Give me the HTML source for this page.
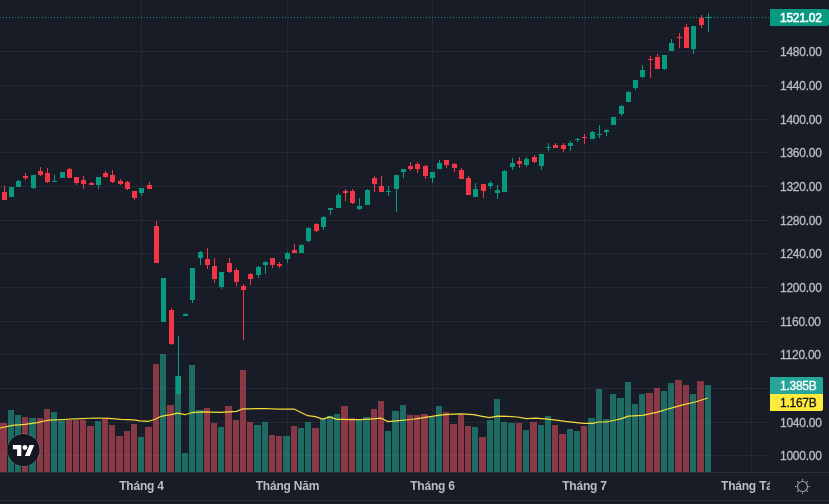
<!DOCTYPE html><html><head><meta charset="utf-8"><title>Chart</title><style>html,body{margin:0;padding:0;background:#181c27;overflow:hidden}svg{display:block}</style></head><body><svg width="829" height="504" viewBox="0 0 829 504">
<defs><filter id="idf" x="-5%" y="-50%" width="110%" height="200%"><feOffset dx="0" dy="0"/></filter></defs>
<rect width="829" height="504" fill="#181c27"/>
<g shape-rendering="crispEdges">
<rect x="0" y="51" width="770" height="1" fill="#242834"/>
<rect x="0" y="85" width="770" height="1" fill="#242834"/>
<rect x="0" y="119" width="770" height="1" fill="#242834"/>
<rect x="0" y="152" width="770" height="1" fill="#242834"/>
<rect x="0" y="186" width="770" height="1" fill="#242834"/>
<rect x="0" y="220" width="770" height="1" fill="#242834"/>
<rect x="0" y="253" width="770" height="1" fill="#242834"/>
<rect x="0" y="287" width="770" height="1" fill="#242834"/>
<rect x="0" y="321" width="770" height="1" fill="#242834"/>
<rect x="0" y="354" width="770" height="1" fill="#242834"/>
<rect x="0" y="388" width="770" height="1" fill="#242834"/>
<rect x="0" y="422" width="770" height="1" fill="#242834"/>
<rect x="0" y="455" width="770" height="1" fill="#242834"/>
<rect x="141" y="0" width="1" height="472" fill="#242834"/>
<rect x="287" y="0" width="1" height="472" fill="#242834"/>
<rect x="432" y="0" width="1" height="472" fill="#242834"/>
<rect x="584" y="0" width="1" height="472" fill="#242834"/>
<rect x="751" y="0" width="1" height="472" fill="#242834"/>
<rect x="0" y="423" width="7" height="49" fill="rgba(250,84,101,0.5)"/>
<rect x="8" y="410" width="6" height="62" fill="rgba(34,186,157,0.5)"/>
<rect x="15" y="415" width="6" height="57" fill="rgba(34,186,157,0.5)"/>
<rect x="22" y="417" width="6" height="55" fill="rgba(250,84,101,0.5)"/>
<rect x="29" y="418" width="7" height="54" fill="rgba(34,186,157,0.5)"/>
<rect x="37" y="418" width="6" height="54" fill="rgba(250,84,101,0.5)"/>
<rect x="44" y="409" width="6" height="63" fill="rgba(250,84,101,0.5)"/>
<rect x="51" y="412" width="6" height="60" fill="rgba(34,186,157,0.5)"/>
<rect x="58" y="420" width="7" height="52" fill="rgba(34,186,157,0.5)"/>
<rect x="66" y="420" width="6" height="52" fill="rgba(250,84,101,0.5)"/>
<rect x="73" y="420" width="6" height="52" fill="rgba(250,84,101,0.5)"/>
<rect x="80" y="420" width="6" height="52" fill="rgba(250,84,101,0.5)"/>
<rect x="87" y="426" width="7" height="46" fill="rgba(250,84,101,0.5)"/>
<rect x="95" y="421" width="6" height="51" fill="rgba(34,186,157,0.5)"/>
<rect x="102" y="419" width="6" height="53" fill="rgba(250,84,101,0.5)"/>
<rect x="109" y="425" width="6" height="47" fill="rgba(250,84,101,0.5)"/>
<rect x="116" y="436" width="7" height="36" fill="rgba(250,84,101,0.5)"/>
<rect x="124" y="431" width="6" height="41" fill="rgba(250,84,101,0.5)"/>
<rect x="131" y="424" width="6" height="48" fill="rgba(250,84,101,0.5)"/>
<rect x="138" y="437" width="6" height="35" fill="rgba(34,186,157,0.5)"/>
<rect x="145" y="427" width="7" height="45" fill="rgba(250,84,101,0.5)"/>
<rect x="153" y="364" width="6" height="108" fill="rgba(250,84,101,0.5)"/>
<rect x="160" y="354" width="6" height="118" fill="rgba(34,186,157,0.5)"/>
<rect x="167" y="405" width="7" height="67" fill="rgba(250,84,101,0.5)"/>
<rect x="175" y="376" width="6" height="96" fill="rgba(34,186,157,0.5)"/>
<rect x="182" y="453" width="6" height="19" fill="rgba(34,186,157,0.5)"/>
<rect x="189" y="365" width="6" height="107" fill="rgba(34,186,157,0.5)"/>
<rect x="196" y="410" width="7" height="62" fill="rgba(34,186,157,0.5)"/>
<rect x="204" y="408" width="6" height="64" fill="rgba(250,84,101,0.5)"/>
<rect x="211" y="423" width="6" height="49" fill="rgba(250,84,101,0.5)"/>
<rect x="218" y="427" width="6" height="45" fill="rgba(34,186,157,0.5)"/>
<rect x="225" y="406" width="7" height="66" fill="rgba(250,84,101,0.5)"/>
<rect x="233" y="420" width="6" height="52" fill="rgba(250,84,101,0.5)"/>
<rect x="240" y="370" width="6" height="102" fill="rgba(250,84,101,0.5)"/>
<rect x="247" y="422" width="6" height="50" fill="rgba(250,84,101,0.5)"/>
<rect x="254" y="425" width="7" height="47" fill="rgba(34,186,157,0.5)"/>
<rect x="262" y="422" width="6" height="50" fill="rgba(34,186,157,0.5)"/>
<rect x="269" y="435" width="6" height="37" fill="rgba(250,84,101,0.5)"/>
<rect x="276" y="436" width="6" height="36" fill="rgba(250,84,101,0.5)"/>
<rect x="283" y="436" width="7" height="36" fill="rgba(34,186,157,0.5)"/>
<rect x="291" y="426" width="6" height="46" fill="rgba(250,84,101,0.5)"/>
<rect x="298" y="428" width="6" height="44" fill="rgba(34,186,157,0.5)"/>
<rect x="305" y="422" width="6" height="50" fill="rgba(34,186,157,0.5)"/>
<rect x="312" y="428" width="7" height="44" fill="rgba(250,84,101,0.5)"/>
<rect x="320" y="419" width="6" height="53" fill="rgba(34,186,157,0.5)"/>
<rect x="327" y="416" width="6" height="56" fill="rgba(34,186,157,0.5)"/>
<rect x="334" y="414" width="6" height="58" fill="rgba(34,186,157,0.5)"/>
<rect x="341" y="406" width="7" height="66" fill="rgba(250,84,101,0.5)"/>
<rect x="349" y="418" width="6" height="54" fill="rgba(250,84,101,0.5)"/>
<rect x="356" y="419" width="6" height="53" fill="rgba(34,186,157,0.5)"/>
<rect x="363" y="417" width="7" height="55" fill="rgba(34,186,157,0.5)"/>
<rect x="371" y="409" width="6" height="63" fill="rgba(250,84,101,0.5)"/>
<rect x="378" y="401" width="6" height="71" fill="rgba(250,84,101,0.5)"/>
<rect x="385" y="431" width="6" height="41" fill="rgba(34,186,157,0.5)"/>
<rect x="392" y="411" width="7" height="61" fill="rgba(34,186,157,0.5)"/>
<rect x="400" y="405" width="6" height="67" fill="rgba(34,186,157,0.5)"/>
<rect x="407" y="415" width="6" height="57" fill="rgba(250,84,101,0.5)"/>
<rect x="414" y="415" width="6" height="57" fill="rgba(250,84,101,0.5)"/>
<rect x="421" y="414" width="7" height="58" fill="rgba(250,84,101,0.5)"/>
<rect x="429" y="417" width="6" height="55" fill="rgba(34,186,157,0.5)"/>
<rect x="436" y="406" width="6" height="66" fill="rgba(34,186,157,0.5)"/>
<rect x="443" y="412" width="6" height="60" fill="rgba(250,84,101,0.5)"/>
<rect x="450" y="424" width="7" height="48" fill="rgba(250,84,101,0.5)"/>
<rect x="458" y="415" width="6" height="57" fill="rgba(250,84,101,0.5)"/>
<rect x="465" y="426" width="6" height="46" fill="rgba(250,84,101,0.5)"/>
<rect x="472" y="427" width="6" height="45" fill="rgba(34,186,157,0.5)"/>
<rect x="479" y="437" width="7" height="35" fill="rgba(250,84,101,0.5)"/>
<rect x="487" y="420" width="6" height="52" fill="rgba(34,186,157,0.5)"/>
<rect x="494" y="399" width="6" height="73" fill="rgba(34,186,157,0.5)"/>
<rect x="501" y="422" width="6" height="50" fill="rgba(34,186,157,0.5)"/>
<rect x="508" y="423" width="7" height="49" fill="rgba(34,186,157,0.5)"/>
<rect x="516" y="423" width="6" height="49" fill="rgba(250,84,101,0.5)"/>
<rect x="523" y="430" width="6" height="42" fill="rgba(34,186,157,0.5)"/>
<rect x="530" y="422" width="7" height="50" fill="rgba(250,84,101,0.5)"/>
<rect x="538" y="425" width="6" height="47" fill="rgba(34,186,157,0.5)"/>
<rect x="545" y="416" width="6" height="56" fill="rgba(34,186,157,0.5)"/>
<rect x="552" y="425" width="6" height="47" fill="rgba(250,84,101,0.5)"/>
<rect x="559" y="434" width="7" height="38" fill="rgba(250,84,101,0.5)"/>
<rect x="567" y="429" width="6" height="43" fill="rgba(34,186,157,0.5)"/>
<rect x="574" y="431" width="6" height="41" fill="rgba(34,186,157,0.5)"/>
<rect x="581" y="426" width="6" height="46" fill="rgba(250,84,101,0.5)"/>
<rect x="588" y="418" width="7" height="54" fill="rgba(34,186,157,0.5)"/>
<rect x="596" y="389" width="6" height="83" fill="rgba(34,186,157,0.5)"/>
<rect x="603" y="419" width="6" height="53" fill="rgba(34,186,157,0.5)"/>
<rect x="610" y="394" width="6" height="78" fill="rgba(34,186,157,0.5)"/>
<rect x="617" y="398" width="7" height="74" fill="rgba(34,186,157,0.5)"/>
<rect x="625" y="382" width="6" height="90" fill="rgba(34,186,157,0.5)"/>
<rect x="632" y="404" width="6" height="68" fill="rgba(34,186,157,0.5)"/>
<rect x="639" y="394" width="6" height="78" fill="rgba(34,186,157,0.5)"/>
<rect x="646" y="393" width="7" height="79" fill="rgba(250,84,101,0.5)"/>
<rect x="654" y="388" width="6" height="84" fill="rgba(250,84,101,0.5)"/>
<rect x="661" y="391" width="6" height="81" fill="rgba(34,186,157,0.5)"/>
<rect x="668" y="383" width="6" height="89" fill="rgba(34,186,157,0.5)"/>
<rect x="675" y="380" width="7" height="92" fill="rgba(250,84,101,0.5)"/>
<rect x="683" y="385" width="6" height="87" fill="rgba(250,84,101,0.5)"/>
<rect x="690" y="394" width="6" height="78" fill="rgba(34,186,157,0.5)"/>
<rect x="697" y="381" width="7" height="91" fill="rgba(250,84,101,0.5)"/>
<rect x="705" y="385" width="6" height="87" fill="rgba(34,186,157,0.5)"/>
</g>
<path d="M0,428 L12.5,425.4 L25,424.3 L37.6,422.7 L44,421 L50,420.2 L62.7,419.5 L75,418.9 L96,418 L108.5,418.3 L121,419.3 L133.6,419.9 L140,420.9 L148.7,421.3 L155,419.3 L161.2,416.3 L167.5,415.1 L170,414.9 L177.6,413.2 L185,414.7 L191.4,412.7 L202.7,411.9 L220.3,412.4 L236.6,411.4 L242.9,408.8 L249,408.8 L265,408.5 L277.6,409.2 L294,409 L307.8,415.7 L315.3,416.6 L322.8,419.1 L329.7,416.9 L336.6,419.4 L344,419.4 L348.5,419.6 L361,419.6 L373.6,418.8 L381.2,418.2 L388,421.6 L398.7,420.7 L411.3,419.5 L423.8,417.6 L432,416.3 L439.5,415.1 L448.3,414.4 L460.9,413.8 L473.4,414.7 L482.2,416.3 L489.7,417.6 L497.2,416.1 L507.3,416.3 L517.3,417 L526.1,418.6 L536,418.2 L548,419.1 L565.6,421.4 L583.2,423.3 L593.2,423.3 L598.3,422 L605.8,422 L613.3,420.5 L620.8,418.9 L628.4,416.1 L642.6,415.4 L657.6,412.1 L670.2,408.3 L682.7,404.9 L695.3,402 L707.8,398" fill="none" stroke="#f5dc38" stroke-width="1.2" stroke-linejoin="round"/>
<g shape-rendering="crispEdges">
<rect x="4" y="186" width="1" height="14" fill="#f23645"/>
<rect x="2" y="192" width="5" height="8" fill="#f23645"/>
<rect x="11" y="187" width="1" height="10" fill="#089981"/>
<rect x="9" y="187" width="5" height="10" fill="#089981"/>
<rect x="18" y="180" width="1" height="7" fill="#089981"/>
<rect x="16" y="181" width="5" height="6" fill="#089981"/>
<rect x="25" y="173" width="1" height="7" fill="#f23645"/>
<rect x="23" y="176" width="5" height="2" fill="#f23645"/>
<rect x="33" y="175" width="1" height="14" fill="#089981"/>
<rect x="31" y="175" width="5" height="13" fill="#089981"/>
<rect x="40" y="167" width="1" height="9" fill="#f23645"/>
<rect x="38" y="171" width="5" height="4" fill="#f23645"/>
<rect x="47" y="168" width="1" height="15" fill="#f23645"/>
<rect x="45" y="173" width="5" height="9" fill="#f23645"/>
<rect x="54" y="175" width="1" height="7" fill="#089981"/>
<rect x="52" y="181" width="5" height="1" fill="#089981"/>
<rect x="62" y="172" width="1" height="6" fill="#089981"/>
<rect x="60" y="172" width="5" height="6" fill="#089981"/>
<rect x="69" y="168" width="1" height="10" fill="#f23645"/>
<rect x="67" y="169" width="5" height="9" fill="#f23645"/>
<rect x="76" y="177" width="1" height="8" fill="#f23645"/>
<rect x="74" y="177" width="5" height="6" fill="#f23645"/>
<rect x="83" y="176" width="1" height="13" fill="#f23645"/>
<rect x="81" y="180" width="5" height="4" fill="#f23645"/>
<rect x="91" y="182" width="1" height="3" fill="#f23645"/>
<rect x="89" y="183" width="5" height="2" fill="#f23645"/>
<rect x="98" y="177" width="1" height="12" fill="#089981"/>
<rect x="96" y="177" width="5" height="8" fill="#089981"/>
<rect x="105" y="171" width="1" height="7" fill="#f23645"/>
<rect x="103" y="173" width="5" height="4" fill="#f23645"/>
<rect x="112" y="170" width="1" height="13" fill="#f23645"/>
<rect x="110" y="175" width="5" height="7" fill="#f23645"/>
<rect x="120" y="179" width="1" height="6" fill="#f23645"/>
<rect x="118" y="181" width="5" height="3" fill="#f23645"/>
<rect x="127" y="181" width="1" height="9" fill="#f23645"/>
<rect x="125" y="182" width="5" height="7" fill="#f23645"/>
<rect x="134" y="191" width="1" height="9" fill="#f23645"/>
<rect x="132" y="191" width="5" height="7" fill="#f23645"/>
<rect x="141" y="188" width="1" height="8" fill="#089981"/>
<rect x="139" y="188" width="5" height="5" fill="#089981"/>
<rect x="149" y="182" width="1" height="7" fill="#f23645"/>
<rect x="147" y="185" width="5" height="4" fill="#f23645"/>
<rect x="156" y="221" width="1" height="42" fill="#f23645"/>
<rect x="154" y="226" width="5" height="37" fill="#f23645"/>
<rect x="163" y="278" width="1" height="44" fill="#089981"/>
<rect x="161" y="278" width="5" height="44" fill="#089981"/>
<rect x="171" y="308" width="1" height="37" fill="#f23645"/>
<rect x="169" y="310" width="5" height="34" fill="#f23645"/>
<rect x="178" y="336" width="1" height="58" fill="#089981"/>
<rect x="176" y="376" width="5" height="18" fill="#089981"/>
<rect x="185" y="313" width="1" height="3" fill="#089981"/>
<rect x="183" y="314" width="5" height="2" fill="#089981"/>
<rect x="192" y="268" width="1" height="35" fill="#089981"/>
<rect x="190" y="268" width="5" height="32" fill="#089981"/>
<rect x="200" y="251" width="1" height="14" fill="#089981"/>
<rect x="198" y="252" width="5" height="6" fill="#089981"/>
<rect x="207" y="248" width="1" height="21" fill="#f23645"/>
<rect x="205" y="259" width="5" height="6" fill="#f23645"/>
<rect x="214" y="258" width="1" height="25" fill="#f23645"/>
<rect x="212" y="266" width="5" height="13" fill="#f23645"/>
<rect x="221" y="272" width="1" height="17" fill="#089981"/>
<rect x="219" y="272" width="5" height="15" fill="#089981"/>
<rect x="229" y="258" width="1" height="15" fill="#f23645"/>
<rect x="227" y="263" width="5" height="9" fill="#f23645"/>
<rect x="236" y="268" width="1" height="18" fill="#f23645"/>
<rect x="234" y="270" width="5" height="12" fill="#f23645"/>
<rect x="243" y="284" width="1" height="56" fill="#f23645"/>
<rect x="241" y="286" width="5" height="4" fill="#f23645"/>
<rect x="250" y="273" width="1" height="12" fill="#f23645"/>
<rect x="248" y="274" width="5" height="5" fill="#f23645"/>
<rect x="258" y="266" width="1" height="12" fill="#089981"/>
<rect x="256" y="267" width="5" height="8" fill="#089981"/>
<rect x="265" y="261" width="1" height="13" fill="#089981"/>
<rect x="263" y="262" width="5" height="3" fill="#089981"/>
<rect x="272" y="258" width="1" height="10" fill="#f23645"/>
<rect x="270" y="258" width="5" height="7" fill="#f23645"/>
<rect x="279" y="262" width="1" height="6" fill="#f23645"/>
<rect x="277" y="264" width="5" height="2" fill="#f23645"/>
<rect x="287" y="252" width="1" height="11" fill="#089981"/>
<rect x="285" y="253" width="5" height="6" fill="#089981"/>
<rect x="294" y="244" width="1" height="9" fill="#f23645"/>
<rect x="292" y="250" width="5" height="3" fill="#f23645"/>
<rect x="301" y="244" width="1" height="9" fill="#089981"/>
<rect x="299" y="245" width="5" height="8" fill="#089981"/>
<rect x="308" y="227" width="1" height="15" fill="#089981"/>
<rect x="306" y="228" width="5" height="13" fill="#089981"/>
<rect x="316" y="223" width="1" height="9" fill="#f23645"/>
<rect x="314" y="224" width="5" height="7" fill="#f23645"/>
<rect x="323" y="216" width="1" height="14" fill="#089981"/>
<rect x="321" y="217" width="5" height="10" fill="#089981"/>
<rect x="330" y="208" width="1" height="7" fill="#089981"/>
<rect x="328" y="208" width="5" height="2" fill="#089981"/>
<rect x="338" y="193" width="1" height="15" fill="#089981"/>
<rect x="336" y="195" width="5" height="13" fill="#089981"/>
<rect x="345" y="189" width="1" height="12" fill="#f23645"/>
<rect x="343" y="191" width="5" height="2" fill="#f23645"/>
<rect x="352" y="189" width="1" height="15" fill="#f23645"/>
<rect x="350" y="191" width="5" height="12" fill="#f23645"/>
<rect x="359" y="198" width="1" height="12" fill="#089981"/>
<rect x="357" y="206" width="5" height="3" fill="#089981"/>
<rect x="367" y="189" width="1" height="16" fill="#089981"/>
<rect x="365" y="190" width="5" height="15" fill="#089981"/>
<rect x="374" y="176" width="1" height="16" fill="#f23645"/>
<rect x="372" y="178" width="5" height="6" fill="#f23645"/>
<rect x="381" y="176" width="1" height="16" fill="#f23645"/>
<rect x="379" y="186" width="5" height="6" fill="#f23645"/>
<rect x="388" y="186" width="1" height="10" fill="#089981"/>
<rect x="386" y="191" width="5" height="1" fill="#089981"/>
<rect x="396" y="175" width="1" height="37" fill="#089981"/>
<rect x="394" y="175" width="5" height="14" fill="#089981"/>
<rect x="403" y="169" width="1" height="9" fill="#089981"/>
<rect x="401" y="169" width="5" height="3" fill="#089981"/>
<rect x="410" y="162" width="1" height="9" fill="#f23645"/>
<rect x="408" y="166" width="5" height="3" fill="#f23645"/>
<rect x="417" y="162" width="1" height="11" fill="#f23645"/>
<rect x="415" y="164" width="5" height="5" fill="#f23645"/>
<rect x="425" y="165" width="1" height="14" fill="#f23645"/>
<rect x="423" y="166" width="5" height="10" fill="#f23645"/>
<rect x="432" y="172" width="1" height="11" fill="#089981"/>
<rect x="430" y="172" width="5" height="6" fill="#089981"/>
<rect x="439" y="160" width="1" height="9" fill="#089981"/>
<rect x="437" y="163" width="5" height="6" fill="#089981"/>
<rect x="446" y="160" width="1" height="8" fill="#f23645"/>
<rect x="444" y="160" width="5" height="5" fill="#f23645"/>
<rect x="454" y="163" width="1" height="9" fill="#f23645"/>
<rect x="452" y="164" width="5" height="4" fill="#f23645"/>
<rect x="461" y="168" width="1" height="11" fill="#f23645"/>
<rect x="459" y="170" width="5" height="9" fill="#f23645"/>
<rect x="468" y="176" width="1" height="19" fill="#f23645"/>
<rect x="466" y="178" width="5" height="17" fill="#f23645"/>
<rect x="475" y="183" width="1" height="14" fill="#089981"/>
<rect x="473" y="189" width="5" height="8" fill="#089981"/>
<rect x="483" y="184" width="1" height="14" fill="#f23645"/>
<rect x="481" y="184" width="5" height="7" fill="#f23645"/>
<rect x="490" y="181" width="1" height="8" fill="#089981"/>
<rect x="488" y="183" width="5" height="3" fill="#089981"/>
<rect x="497" y="185" width="1" height="14" fill="#089981"/>
<rect x="495" y="190" width="5" height="3" fill="#089981"/>
<rect x="504" y="170" width="1" height="22" fill="#089981"/>
<rect x="502" y="171" width="5" height="21" fill="#089981"/>
<rect x="512" y="158" width="1" height="12" fill="#089981"/>
<rect x="510" y="163" width="5" height="4" fill="#089981"/>
<rect x="519" y="157" width="1" height="11" fill="#f23645"/>
<rect x="517" y="161" width="5" height="3" fill="#f23645"/>
<rect x="526" y="157" width="1" height="10" fill="#089981"/>
<rect x="524" y="159" width="5" height="6" fill="#089981"/>
<rect x="534" y="155" width="1" height="8" fill="#f23645"/>
<rect x="532" y="157" width="5" height="5" fill="#f23645"/>
<rect x="541" y="154" width="1" height="16" fill="#089981"/>
<rect x="539" y="154" width="5" height="12" fill="#089981"/>
<rect x="548" y="143" width="1" height="8" fill="#089981"/>
<rect x="546" y="147" width="5" height="1" fill="#089981"/>
<rect x="555" y="143" width="1" height="5" fill="#f23645"/>
<rect x="553" y="145" width="5" height="3" fill="#f23645"/>
<rect x="563" y="143" width="1" height="9" fill="#f23645"/>
<rect x="561" y="145" width="5" height="4" fill="#f23645"/>
<rect x="570" y="141" width="1" height="10" fill="#089981"/>
<rect x="568" y="143" width="5" height="3" fill="#089981"/>
<rect x="577" y="138" width="1" height="4" fill="#089981"/>
<rect x="575" y="139" width="5" height="1" fill="#089981"/>
<rect x="584" y="134" width="1" height="10" fill="#f23645"/>
<rect x="582" y="137" width="5" height="1" fill="#f23645"/>
<rect x="592" y="131" width="1" height="8" fill="#089981"/>
<rect x="590" y="132" width="5" height="7" fill="#089981"/>
<rect x="599" y="125" width="1" height="13" fill="#089981"/>
<rect x="597" y="134" width="5" height="1" fill="#089981"/>
<rect x="606" y="129" width="1" height="7" fill="#089981"/>
<rect x="604" y="130" width="5" height="2" fill="#089981"/>
<rect x="613" y="117" width="1" height="8" fill="#089981"/>
<rect x="611" y="117" width="5" height="8" fill="#089981"/>
<rect x="621" y="105" width="1" height="11" fill="#089981"/>
<rect x="619" y="106" width="5" height="8" fill="#089981"/>
<rect x="628" y="91" width="1" height="11" fill="#089981"/>
<rect x="626" y="92" width="5" height="10" fill="#089981"/>
<rect x="635" y="80" width="1" height="10" fill="#089981"/>
<rect x="633" y="80" width="5" height="8" fill="#089981"/>
<rect x="642" y="65" width="1" height="13" fill="#089981"/>
<rect x="640" y="70" width="5" height="7" fill="#089981"/>
<rect x="650" y="56" width="1" height="22" fill="#f23645"/>
<rect x="648" y="59" width="5" height="1" fill="#f23645"/>
<rect x="657" y="54" width="1" height="15" fill="#f23645"/>
<rect x="655" y="57" width="5" height="12" fill="#f23645"/>
<rect x="664" y="55" width="1" height="15" fill="#089981"/>
<rect x="662" y="55" width="5" height="14" fill="#089981"/>
<rect x="671" y="39" width="1" height="12" fill="#089981"/>
<rect x="669" y="43" width="5" height="8" fill="#089981"/>
<rect x="679" y="33" width="1" height="15" fill="#f23645"/>
<rect x="677" y="37" width="5" height="1" fill="#f23645"/>
<rect x="686" y="24" width="1" height="24" fill="#f23645"/>
<rect x="684" y="27" width="5" height="21" fill="#f23645"/>
<rect x="693" y="26" width="1" height="28" fill="#089981"/>
<rect x="691" y="26" width="5" height="23" fill="#089981"/>
<rect x="701" y="15" width="1" height="13" fill="#f23645"/>
<rect x="699" y="18" width="5" height="7" fill="#f23645"/>
<rect x="708" y="13" width="1" height="19" fill="#089981"/>
<rect x="706" y="17" width="5" height="1" fill="#089981"/>
<rect x="0" y="17" width="1" height="1" fill="#089981"/>
<rect x="3" y="17" width="1" height="1" fill="#089981"/>
<rect x="6" y="17" width="1" height="1" fill="#089981"/>
<rect x="9" y="17" width="1" height="1" fill="#089981"/>
<rect x="12" y="17" width="1" height="1" fill="#089981"/>
<rect x="15" y="17" width="1" height="1" fill="#089981"/>
<rect x="18" y="17" width="1" height="1" fill="#089981"/>
<rect x="21" y="17" width="1" height="1" fill="#089981"/>
<rect x="24" y="17" width="1" height="1" fill="#089981"/>
<rect x="27" y="17" width="1" height="1" fill="#089981"/>
<rect x="30" y="17" width="1" height="1" fill="#089981"/>
<rect x="33" y="17" width="1" height="1" fill="#089981"/>
<rect x="36" y="17" width="1" height="1" fill="#089981"/>
<rect x="39" y="17" width="1" height="1" fill="#089981"/>
<rect x="42" y="17" width="1" height="1" fill="#089981"/>
<rect x="45" y="17" width="1" height="1" fill="#089981"/>
<rect x="48" y="17" width="1" height="1" fill="#089981"/>
<rect x="51" y="17" width="1" height="1" fill="#089981"/>
<rect x="54" y="17" width="1" height="1" fill="#089981"/>
<rect x="57" y="17" width="1" height="1" fill="#089981"/>
<rect x="60" y="17" width="1" height="1" fill="#089981"/>
<rect x="63" y="17" width="1" height="1" fill="#089981"/>
<rect x="66" y="17" width="1" height="1" fill="#089981"/>
<rect x="69" y="17" width="1" height="1" fill="#089981"/>
<rect x="72" y="17" width="1" height="1" fill="#089981"/>
<rect x="75" y="17" width="1" height="1" fill="#089981"/>
<rect x="78" y="17" width="1" height="1" fill="#089981"/>
<rect x="81" y="17" width="1" height="1" fill="#089981"/>
<rect x="84" y="17" width="1" height="1" fill="#089981"/>
<rect x="87" y="17" width="1" height="1" fill="#089981"/>
<rect x="90" y="17" width="1" height="1" fill="#089981"/>
<rect x="93" y="17" width="1" height="1" fill="#089981"/>
<rect x="96" y="17" width="1" height="1" fill="#089981"/>
<rect x="99" y="17" width="1" height="1" fill="#089981"/>
<rect x="102" y="17" width="1" height="1" fill="#089981"/>
<rect x="105" y="17" width="1" height="1" fill="#089981"/>
<rect x="108" y="17" width="1" height="1" fill="#089981"/>
<rect x="111" y="17" width="1" height="1" fill="#089981"/>
<rect x="114" y="17" width="1" height="1" fill="#089981"/>
<rect x="117" y="17" width="1" height="1" fill="#089981"/>
<rect x="120" y="17" width="1" height="1" fill="#089981"/>
<rect x="123" y="17" width="1" height="1" fill="#089981"/>
<rect x="126" y="17" width="1" height="1" fill="#089981"/>
<rect x="129" y="17" width="1" height="1" fill="#089981"/>
<rect x="132" y="17" width="1" height="1" fill="#089981"/>
<rect x="135" y="17" width="1" height="1" fill="#089981"/>
<rect x="138" y="17" width="1" height="1" fill="#089981"/>
<rect x="141" y="17" width="1" height="1" fill="#089981"/>
<rect x="144" y="17" width="1" height="1" fill="#089981"/>
<rect x="147" y="17" width="1" height="1" fill="#089981"/>
<rect x="150" y="17" width="1" height="1" fill="#089981"/>
<rect x="153" y="17" width="1" height="1" fill="#089981"/>
<rect x="156" y="17" width="1" height="1" fill="#089981"/>
<rect x="159" y="17" width="1" height="1" fill="#089981"/>
<rect x="162" y="17" width="1" height="1" fill="#089981"/>
<rect x="165" y="17" width="1" height="1" fill="#089981"/>
<rect x="168" y="17" width="1" height="1" fill="#089981"/>
<rect x="171" y="17" width="1" height="1" fill="#089981"/>
<rect x="174" y="17" width="1" height="1" fill="#089981"/>
<rect x="177" y="17" width="1" height="1" fill="#089981"/>
<rect x="180" y="17" width="1" height="1" fill="#089981"/>
<rect x="183" y="17" width="1" height="1" fill="#089981"/>
<rect x="186" y="17" width="1" height="1" fill="#089981"/>
<rect x="189" y="17" width="1" height="1" fill="#089981"/>
<rect x="192" y="17" width="1" height="1" fill="#089981"/>
<rect x="195" y="17" width="1" height="1" fill="#089981"/>
<rect x="198" y="17" width="1" height="1" fill="#089981"/>
<rect x="201" y="17" width="1" height="1" fill="#089981"/>
<rect x="204" y="17" width="1" height="1" fill="#089981"/>
<rect x="207" y="17" width="1" height="1" fill="#089981"/>
<rect x="210" y="17" width="1" height="1" fill="#089981"/>
<rect x="213" y="17" width="1" height="1" fill="#089981"/>
<rect x="216" y="17" width="1" height="1" fill="#089981"/>
<rect x="219" y="17" width="1" height="1" fill="#089981"/>
<rect x="222" y="17" width="1" height="1" fill="#089981"/>
<rect x="225" y="17" width="1" height="1" fill="#089981"/>
<rect x="228" y="17" width="1" height="1" fill="#089981"/>
<rect x="231" y="17" width="1" height="1" fill="#089981"/>
<rect x="234" y="17" width="1" height="1" fill="#089981"/>
<rect x="237" y="17" width="1" height="1" fill="#089981"/>
<rect x="240" y="17" width="1" height="1" fill="#089981"/>
<rect x="243" y="17" width="1" height="1" fill="#089981"/>
<rect x="246" y="17" width="1" height="1" fill="#089981"/>
<rect x="249" y="17" width="1" height="1" fill="#089981"/>
<rect x="252" y="17" width="1" height="1" fill="#089981"/>
<rect x="255" y="17" width="1" height="1" fill="#089981"/>
<rect x="258" y="17" width="1" height="1" fill="#089981"/>
<rect x="261" y="17" width="1" height="1" fill="#089981"/>
<rect x="264" y="17" width="1" height="1" fill="#089981"/>
<rect x="267" y="17" width="1" height="1" fill="#089981"/>
<rect x="270" y="17" width="1" height="1" fill="#089981"/>
<rect x="273" y="17" width="1" height="1" fill="#089981"/>
<rect x="276" y="17" width="1" height="1" fill="#089981"/>
<rect x="279" y="17" width="1" height="1" fill="#089981"/>
<rect x="282" y="17" width="1" height="1" fill="#089981"/>
<rect x="285" y="17" width="1" height="1" fill="#089981"/>
<rect x="288" y="17" width="1" height="1" fill="#089981"/>
<rect x="291" y="17" width="1" height="1" fill="#089981"/>
<rect x="294" y="17" width="1" height="1" fill="#089981"/>
<rect x="297" y="17" width="1" height="1" fill="#089981"/>
<rect x="300" y="17" width="1" height="1" fill="#089981"/>
<rect x="303" y="17" width="1" height="1" fill="#089981"/>
<rect x="306" y="17" width="1" height="1" fill="#089981"/>
<rect x="309" y="17" width="1" height="1" fill="#089981"/>
<rect x="312" y="17" width="1" height="1" fill="#089981"/>
<rect x="315" y="17" width="1" height="1" fill="#089981"/>
<rect x="318" y="17" width="1" height="1" fill="#089981"/>
<rect x="321" y="17" width="1" height="1" fill="#089981"/>
<rect x="324" y="17" width="1" height="1" fill="#089981"/>
<rect x="327" y="17" width="1" height="1" fill="#089981"/>
<rect x="330" y="17" width="1" height="1" fill="#089981"/>
<rect x="333" y="17" width="1" height="1" fill="#089981"/>
<rect x="336" y="17" width="1" height="1" fill="#089981"/>
<rect x="339" y="17" width="1" height="1" fill="#089981"/>
<rect x="342" y="17" width="1" height="1" fill="#089981"/>
<rect x="345" y="17" width="1" height="1" fill="#089981"/>
<rect x="348" y="17" width="1" height="1" fill="#089981"/>
<rect x="351" y="17" width="1" height="1" fill="#089981"/>
<rect x="354" y="17" width="1" height="1" fill="#089981"/>
<rect x="357" y="17" width="1" height="1" fill="#089981"/>
<rect x="360" y="17" width="1" height="1" fill="#089981"/>
<rect x="363" y="17" width="1" height="1" fill="#089981"/>
<rect x="366" y="17" width="1" height="1" fill="#089981"/>
<rect x="369" y="17" width="1" height="1" fill="#089981"/>
<rect x="372" y="17" width="1" height="1" fill="#089981"/>
<rect x="375" y="17" width="1" height="1" fill="#089981"/>
<rect x="378" y="17" width="1" height="1" fill="#089981"/>
<rect x="381" y="17" width="1" height="1" fill="#089981"/>
<rect x="384" y="17" width="1" height="1" fill="#089981"/>
<rect x="387" y="17" width="1" height="1" fill="#089981"/>
<rect x="390" y="17" width="1" height="1" fill="#089981"/>
<rect x="393" y="17" width="1" height="1" fill="#089981"/>
<rect x="396" y="17" width="1" height="1" fill="#089981"/>
<rect x="399" y="17" width="1" height="1" fill="#089981"/>
<rect x="402" y="17" width="1" height="1" fill="#089981"/>
<rect x="405" y="17" width="1" height="1" fill="#089981"/>
<rect x="408" y="17" width="1" height="1" fill="#089981"/>
<rect x="411" y="17" width="1" height="1" fill="#089981"/>
<rect x="414" y="17" width="1" height="1" fill="#089981"/>
<rect x="417" y="17" width="1" height="1" fill="#089981"/>
<rect x="420" y="17" width="1" height="1" fill="#089981"/>
<rect x="423" y="17" width="1" height="1" fill="#089981"/>
<rect x="426" y="17" width="1" height="1" fill="#089981"/>
<rect x="429" y="17" width="1" height="1" fill="#089981"/>
<rect x="432" y="17" width="1" height="1" fill="#089981"/>
<rect x="435" y="17" width="1" height="1" fill="#089981"/>
<rect x="438" y="17" width="1" height="1" fill="#089981"/>
<rect x="441" y="17" width="1" height="1" fill="#089981"/>
<rect x="444" y="17" width="1" height="1" fill="#089981"/>
<rect x="447" y="17" width="1" height="1" fill="#089981"/>
<rect x="450" y="17" width="1" height="1" fill="#089981"/>
<rect x="453" y="17" width="1" height="1" fill="#089981"/>
<rect x="456" y="17" width="1" height="1" fill="#089981"/>
<rect x="459" y="17" width="1" height="1" fill="#089981"/>
<rect x="462" y="17" width="1" height="1" fill="#089981"/>
<rect x="465" y="17" width="1" height="1" fill="#089981"/>
<rect x="468" y="17" width="1" height="1" fill="#089981"/>
<rect x="471" y="17" width="1" height="1" fill="#089981"/>
<rect x="474" y="17" width="1" height="1" fill="#089981"/>
<rect x="477" y="17" width="1" height="1" fill="#089981"/>
<rect x="480" y="17" width="1" height="1" fill="#089981"/>
<rect x="483" y="17" width="1" height="1" fill="#089981"/>
<rect x="486" y="17" width="1" height="1" fill="#089981"/>
<rect x="489" y="17" width="1" height="1" fill="#089981"/>
<rect x="492" y="17" width="1" height="1" fill="#089981"/>
<rect x="495" y="17" width="1" height="1" fill="#089981"/>
<rect x="498" y="17" width="1" height="1" fill="#089981"/>
<rect x="501" y="17" width="1" height="1" fill="#089981"/>
<rect x="504" y="17" width="1" height="1" fill="#089981"/>
<rect x="507" y="17" width="1" height="1" fill="#089981"/>
<rect x="510" y="17" width="1" height="1" fill="#089981"/>
<rect x="513" y="17" width="1" height="1" fill="#089981"/>
<rect x="516" y="17" width="1" height="1" fill="#089981"/>
<rect x="519" y="17" width="1" height="1" fill="#089981"/>
<rect x="522" y="17" width="1" height="1" fill="#089981"/>
<rect x="525" y="17" width="1" height="1" fill="#089981"/>
<rect x="528" y="17" width="1" height="1" fill="#089981"/>
<rect x="531" y="17" width="1" height="1" fill="#089981"/>
<rect x="534" y="17" width="1" height="1" fill="#089981"/>
<rect x="537" y="17" width="1" height="1" fill="#089981"/>
<rect x="540" y="17" width="1" height="1" fill="#089981"/>
<rect x="543" y="17" width="1" height="1" fill="#089981"/>
<rect x="546" y="17" width="1" height="1" fill="#089981"/>
<rect x="549" y="17" width="1" height="1" fill="#089981"/>
<rect x="552" y="17" width="1" height="1" fill="#089981"/>
<rect x="555" y="17" width="1" height="1" fill="#089981"/>
<rect x="558" y="17" width="1" height="1" fill="#089981"/>
<rect x="561" y="17" width="1" height="1" fill="#089981"/>
<rect x="564" y="17" width="1" height="1" fill="#089981"/>
<rect x="567" y="17" width="1" height="1" fill="#089981"/>
<rect x="570" y="17" width="1" height="1" fill="#089981"/>
<rect x="573" y="17" width="1" height="1" fill="#089981"/>
<rect x="576" y="17" width="1" height="1" fill="#089981"/>
<rect x="579" y="17" width="1" height="1" fill="#089981"/>
<rect x="582" y="17" width="1" height="1" fill="#089981"/>
<rect x="585" y="17" width="1" height="1" fill="#089981"/>
<rect x="588" y="17" width="1" height="1" fill="#089981"/>
<rect x="591" y="17" width="1" height="1" fill="#089981"/>
<rect x="594" y="17" width="1" height="1" fill="#089981"/>
<rect x="597" y="17" width="1" height="1" fill="#089981"/>
<rect x="600" y="17" width="1" height="1" fill="#089981"/>
<rect x="603" y="17" width="1" height="1" fill="#089981"/>
<rect x="606" y="17" width="1" height="1" fill="#089981"/>
<rect x="609" y="17" width="1" height="1" fill="#089981"/>
<rect x="612" y="17" width="1" height="1" fill="#089981"/>
<rect x="615" y="17" width="1" height="1" fill="#089981"/>
<rect x="618" y="17" width="1" height="1" fill="#089981"/>
<rect x="621" y="17" width="1" height="1" fill="#089981"/>
<rect x="624" y="17" width="1" height="1" fill="#089981"/>
<rect x="627" y="17" width="1" height="1" fill="#089981"/>
<rect x="630" y="17" width="1" height="1" fill="#089981"/>
<rect x="633" y="17" width="1" height="1" fill="#089981"/>
<rect x="636" y="17" width="1" height="1" fill="#089981"/>
<rect x="639" y="17" width="1" height="1" fill="#089981"/>
<rect x="642" y="17" width="1" height="1" fill="#089981"/>
<rect x="645" y="17" width="1" height="1" fill="#089981"/>
<rect x="648" y="17" width="1" height="1" fill="#089981"/>
<rect x="651" y="17" width="1" height="1" fill="#089981"/>
<rect x="654" y="17" width="1" height="1" fill="#089981"/>
<rect x="657" y="17" width="1" height="1" fill="#089981"/>
<rect x="660" y="17" width="1" height="1" fill="#089981"/>
<rect x="663" y="17" width="1" height="1" fill="#089981"/>
<rect x="666" y="17" width="1" height="1" fill="#089981"/>
<rect x="669" y="17" width="1" height="1" fill="#089981"/>
<rect x="672" y="17" width="1" height="1" fill="#089981"/>
<rect x="675" y="17" width="1" height="1" fill="#089981"/>
<rect x="678" y="17" width="1" height="1" fill="#089981"/>
<rect x="681" y="17" width="1" height="1" fill="#089981"/>
<rect x="684" y="17" width="1" height="1" fill="#089981"/>
<rect x="687" y="17" width="1" height="1" fill="#089981"/>
<rect x="690" y="17" width="1" height="1" fill="#089981"/>
<rect x="693" y="17" width="1" height="1" fill="#089981"/>
<rect x="696" y="17" width="1" height="1" fill="#089981"/>
<rect x="699" y="17" width="1" height="1" fill="#089981"/>
<rect x="702" y="17" width="1" height="1" fill="#089981"/>
<rect x="705" y="17" width="1" height="1" fill="#089981"/>
<rect x="708" y="17" width="1" height="1" fill="#089981"/>
<rect x="711" y="17" width="1" height="1" fill="#089981"/>
<rect x="714" y="17" width="1" height="1" fill="#089981"/>
<rect x="717" y="17" width="1" height="1" fill="#089981"/>
<rect x="720" y="17" width="1" height="1" fill="#089981"/>
<rect x="723" y="17" width="1" height="1" fill="#089981"/>
<rect x="726" y="17" width="1" height="1" fill="#089981"/>
<rect x="729" y="17" width="1" height="1" fill="#089981"/>
<rect x="732" y="17" width="1" height="1" fill="#089981"/>
<rect x="735" y="17" width="1" height="1" fill="#089981"/>
<rect x="738" y="17" width="1" height="1" fill="#089981"/>
<rect x="741" y="17" width="1" height="1" fill="#089981"/>
<rect x="744" y="17" width="1" height="1" fill="#089981"/>
<rect x="747" y="17" width="1" height="1" fill="#089981"/>
<rect x="750" y="17" width="1" height="1" fill="#089981"/>
<rect x="753" y="17" width="1" height="1" fill="#089981"/>
<rect x="756" y="17" width="1" height="1" fill="#089981"/>
<rect x="759" y="17" width="1" height="1" fill="#089981"/>
<rect x="762" y="17" width="1" height="1" fill="#089981"/>
<rect x="765" y="17" width="1" height="1" fill="#089981"/>
<rect x="768" y="17" width="1" height="1" fill="#089981"/>
<rect x="0" y="472" width="829" height="1" fill="#2a2e39"/>
<rect x="0" y="500" width="829" height="1" fill="#2a2e39"/>
</g>
<path d="M770 9h57a2 2 0 0 1 2 2v13a2 2 0 0 1-2 2h-57z" fill="#089981"/>
<path d="M770 377h51a2 2 0 0 1 2 2v15h-53z" fill="#26a69a"/>
<path d="M770 394h53v15a2 2 0 0 1-2 2h-51z" fill="#ffeb3b"/>
<g font-family="Liberation Sans, sans-serif" font-size="12px" letter-spacing="-0.25" filter="url(#idf)">
<text x="780" y="22" fill="#fff" stroke="#fff" stroke-width="0.55">1521.02</text>
<text x="780" y="56" fill="#b9bcc6" stroke="#b9bcc6" stroke-width="0.3">1480.00</text>
<text x="780" y="90" fill="#b9bcc6" stroke="#b9bcc6" stroke-width="0.3">1440.00</text>
<text x="780" y="124" fill="#b9bcc6" stroke="#b9bcc6" stroke-width="0.3">1400.00</text>
<text x="780" y="157" fill="#b9bcc6" stroke="#b9bcc6" stroke-width="0.3">1360.00</text>
<text x="780" y="191" fill="#b9bcc6" stroke="#b9bcc6" stroke-width="0.3">1320.00</text>
<text x="780" y="225" fill="#b9bcc6" stroke="#b9bcc6" stroke-width="0.3">1280.00</text>
<text x="780" y="258" fill="#b9bcc6" stroke="#b9bcc6" stroke-width="0.3">1240.00</text>
<text x="780" y="292" fill="#b9bcc6" stroke="#b9bcc6" stroke-width="0.3">1200.00</text>
<text x="780" y="326" fill="#b9bcc6" stroke="#b9bcc6" stroke-width="0.3">1160.00</text>
<text x="780" y="359" fill="#b9bcc6" stroke="#b9bcc6" stroke-width="0.3">1120.00</text>
<text x="780" y="427" fill="#b9bcc6" stroke="#b9bcc6" stroke-width="0.3">1040.00</text>
<text x="780" y="460" fill="#b9bcc6" stroke="#b9bcc6" stroke-width="0.3">1000.00</text>
<text x="780" y="390" fill="#fff" stroke="#fff" stroke-width="0.3">1.385B</text>
<text x="780" y="407" fill="#131722" stroke="#131722" stroke-width="0.3">1.167B</text>
</g>
<g font-family="Liberation Sans, sans-serif" font-size="12px" font-weight="bold" fill="#b9bcc6" text-anchor="middle" letter-spacing="-0.2" filter="url(#idf)">
<text x="141.5" y="490">Tháng 4</text>
<text x="287.5" y="490">Tháng Năm</text>
<text x="432.5" y="490">Tháng 6</text>
<text x="584.5" y="490">Tháng 7</text>
</g>
<clipPath id="cl"><rect x="0" y="473" width="770" height="27"/></clipPath>
<g clip-path="url(#cl)" filter="url(#idf)"><text x="721" y="490" font-family="Liberation Sans, sans-serif" font-size="12px" font-weight="bold" fill="#b9bcc6" letter-spacing="-0.2">Tháng Tám</text></g>
<g stroke="#9a9da8" stroke-width="1.1" fill="none" stroke-linecap="round"><circle cx="802.5" cy="486.5" r="5.0"/><line x1="808.80" y1="486.50" x2="809.60" y2="486.50"/><line x1="806.95" y1="490.95" x2="807.52" y2="491.52"/><line x1="802.50" y1="492.80" x2="802.50" y2="493.60"/><line x1="798.05" y1="490.95" x2="797.48" y2="491.52"/><line x1="796.20" y1="486.50" x2="795.40" y2="486.50"/><line x1="798.05" y1="482.05" x2="797.48" y2="481.48"/><line x1="802.50" y1="480.20" x2="802.50" y2="479.40"/><line x1="806.95" y1="482.05" x2="807.52" y2="481.48"/></g>
<circle cx="23.5" cy="450" r="16.1" fill="#131722"/><circle cx="23.5" cy="450" r="16.5" fill="none" stroke="#ffffff" stroke-opacity="0.18" stroke-width="0.8"/>
<g transform="translate(12.9,442.7) scale(0.6)" fill="#fff"><path d="M14 22H7V11H0V4h14v18zM28 22h-8l7.5-18h8L28 22z"/><circle cx="20" cy="8" r="4"/></g>
<path d="M0 0h2.5a2.5 2.5 0 0 0-2.5 2.5z" fill="#2b2f3b"/>
</svg></body></html>
